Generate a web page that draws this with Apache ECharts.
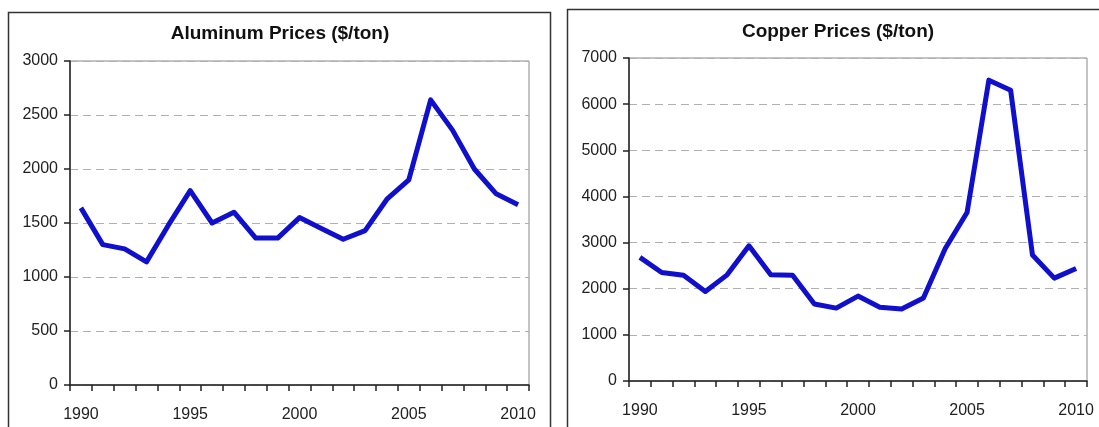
<!DOCTYPE html>
<html>
<head>
<meta charset="utf-8">
<script src="https://cdn.jsdelivr.net/npm/echarts@6/dist/echarts.min.js"></script>
<style>html,body{margin:0;padding:0;background:#fff}#c{width:1099px;height:427px}</style>
</head>
<body>
<div id="c"></div>
<script>
const years = ['1990','1991','1992','1993','1994','1995','1996','1997','1998','1999','2000','2001','2002','2003','2004','2005','2006','2007','2008','2009','2010'];
const aluminum = [1640,1300,1260,1140,1480,1800,1500,1600,1360,1360,1550,1450,1350,1430,1720,1900,2640,2360,2000,1770,1670];
const copper = [2680,2350,2290,1940,2300,2930,2300,2290,1670,1580,1840,1600,1560,1800,2870,3650,6520,6300,2730,2230,2440];
const titles = ['Aluminum Prices ($/ton)', 'Copper Prices ($/ton)'];

const FONT = "'Liberation Sans', Arial, sans-serif";
const chart = echarts.init(document.getElementById('c'));

function xAxis(gi) {
  return {
    type: 'category', gridIndex: gi, data: years, boundaryGap: true,
    axisLine: { lineStyle: { color: '#222', width: 1.5 } },
    axisTick: { show: true, interval: 0, length: 6, lineStyle: { color: '#222', width: 1.5 } },
    axisLabel: { interval: 4, margin: 22, fontFamily: FONT, fontSize: 16, color: '#222' },
    splitLine: { show: false }
  };
}
function yAxis(gi, max, step) {
  return {
    type: 'value', gridIndex: gi, min: 0, max: max, interval: step,
    axisLine: { show: true, lineStyle: { color: '#222', width: 1.5 } },
    axisTick: { show: true, length: 6, lineStyle: { color: '#222', width: 1.5 } },
    axisLabel: { margin: 12, fontFamily: FONT, fontSize: 16, color: '#222', formatter: v => String(v) },
    splitLine: { show: true, lineStyle: { color: '#b0b0b0', type: [8, 5], width: 1 } }
  };
}

chart.setOption({
  animation: false,
  title: [
    { text: titles[0], left: 280, top: 24, textAlign: 'center', padding: 0,
      textStyle: { fontFamily: FONT, fontSize: 19, fontWeight: 'bold', color: '#111' } },
    { text: titles[1], left: 838, top: 22, textAlign: 'center', padding: 0,
      textStyle: { fontFamily: FONT, fontSize: 19, fontWeight: 'bold', color: '#111' } }
  ],
  graphic: [
    { type: 'rect', shape: { x: 8.5, y: 12.5, width: 542, height: 440 }, style: { fill: 'none', stroke: '#333', lineWidth: 1.5 }, z: -1 },
    { type: 'rect', shape: { x: 567.5, y: 9.5, width: 560, height: 440 }, style: { fill: 'none', stroke: '#333', lineWidth: 1.5 }, z: -1 }
  ],
  grid: [
    { left: 70, top: 61, right: 570, bottom: 42, show: true, borderColor: '#888', borderWidth: 1, backgroundColor: 'transparent' },
    { left: 629, top: 58, right: 12, bottom: 46, show: true, borderColor: '#888', borderWidth: 1, backgroundColor: 'transparent' }
  ],
  xAxis: [xAxis(0), xAxis(1)],
  yAxis: [yAxis(0, 3000, 500), yAxis(1, 7000, 1000)],
  series: [
    { type: 'line', xAxisIndex: 0, yAxisIndex: 0, data: aluminum, symbol: 'none',
      lineStyle: { color: '#1010cc', width: 5, join: 'round' } },
    { type: 'line', xAxisIndex: 1, yAxisIndex: 1, data: copper, symbol: 'none',
      lineStyle: { color: '#1010cc', width: 5, join: 'round' } }
  ]
});
</script>
</body>
</html>
